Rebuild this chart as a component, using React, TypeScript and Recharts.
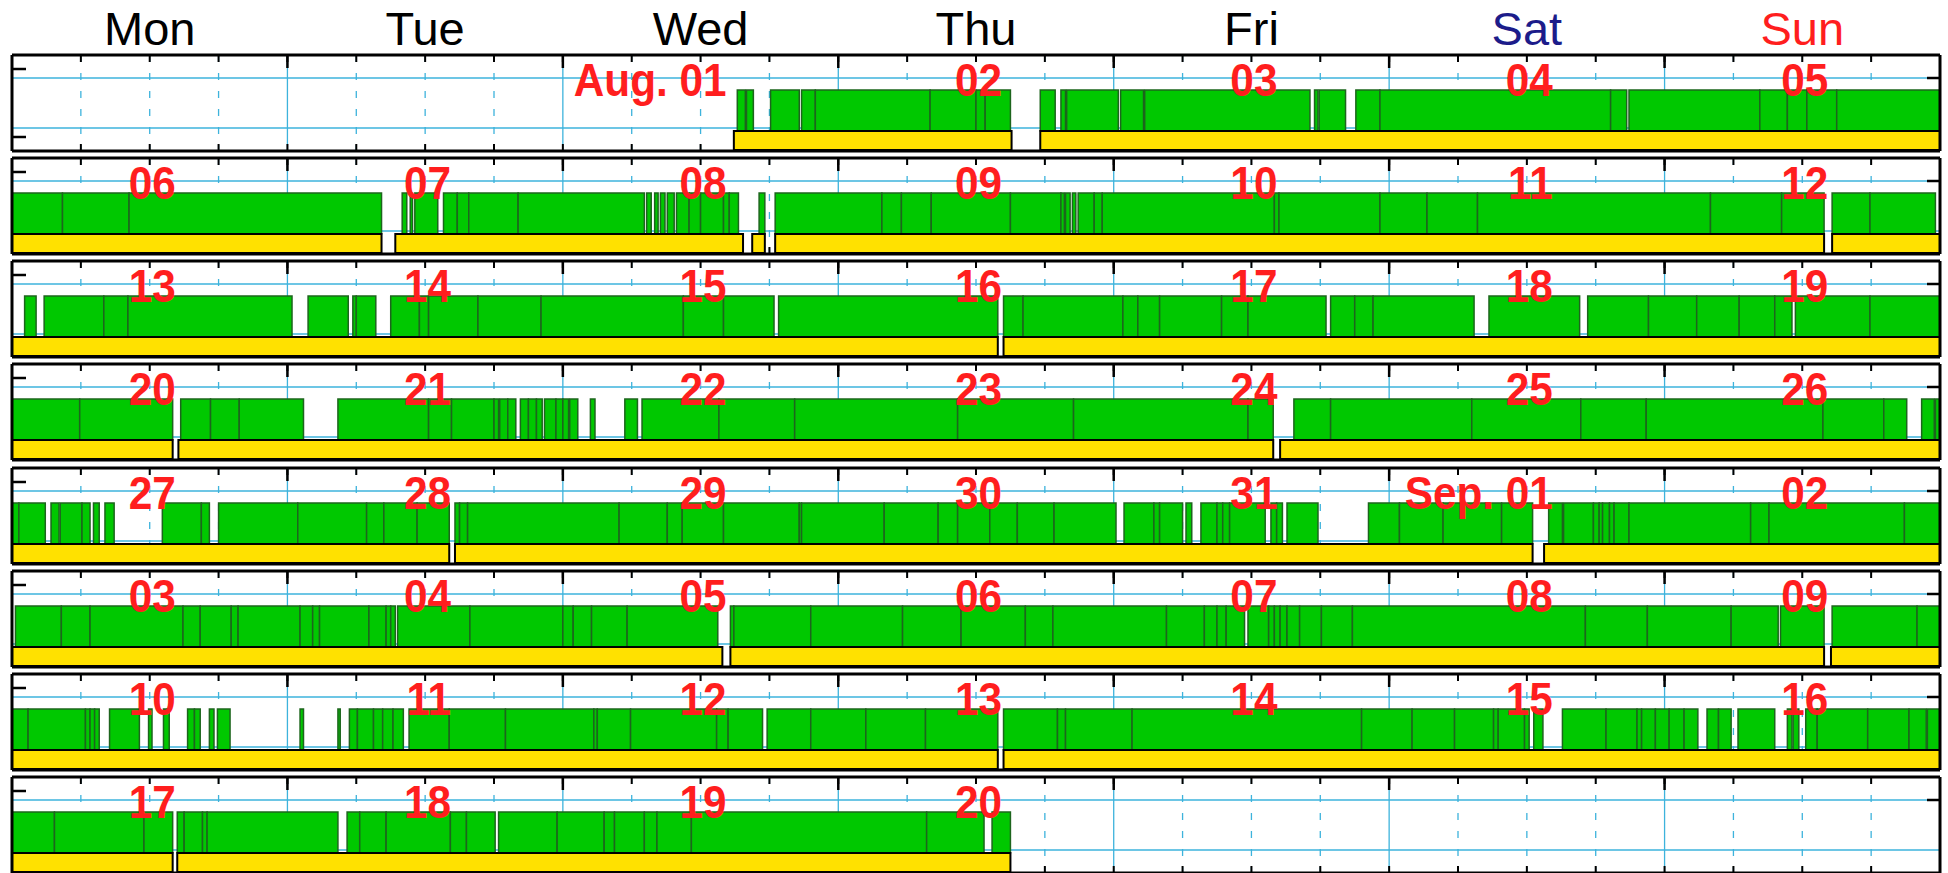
import React from "react";
import { ComposedChart, XAxis, YAxis, CartesianGrid, ReferenceArea } from "recharts";

const FONT = "'Liberation Sans', Arial, Helvetica, sans-serif";

const dayNames = ["Mon", "Tue", "Wed", "Thu", "Fri", "Sat", "Sun"];
const dayNameColors = ["#000", "#000", "#000", "#000", "#000", "#1c1c8a", "#ff1e1e"];

// date shown on each day of each week row
const datesWeek1 = ["", "", "Aug. 01", "02", "03", "04", "05"];
const datesWeek2 = ["06", "07", "08", "09", "10", "11", "12"];
const datesWeek3 = ["13", "14", "15", "16", "17", "18", "19"];
const datesWeek4 = ["20", "21", "22", "23", "24", "25", "26"];
const datesWeek5 = ["27", "28", "29", "30", "31", "Sep. 01", "02"];
const datesWeek6 = ["03", "04", "05", "06", "07", "08", "09"];
const datesWeek7 = ["10", "11", "12", "13", "14", "15", "16"];
const datesWeek8 = ["17", "18", "19", "20", "", "", ""];

// green activity blocks, hours from Monday 00:00; each block lists the boundaries
// of touching segments, so [a, b, c] means [a, b] and [b, c]
const greenWeek1 = [
  [63.2, 63.9], [64.0, 64.6], [66.1, 68.6], [68.8, 70.0, 80.0, 84.0, 84.8, 87.0],
  [89.6, 90.9], [91.4, 91.8], [91.9, 96.4], [96.6, 98.6], [98.7, 113.1],
  [113.5, 113.8], [113.9, 116.2], [117.1, 119.2, 139.3, 140.7],
  [140.9, 152.3, 154.7, 156.4, 159.0, 168],
];
const greenWeek2 = [
  [0, 4.4, 10.2, 32.2], [34.0, 34.4], [34.7, 34.9], [35.1, 37.1],
  [37.6, 38.8, 39.8, 44.1, 55.1], [55.3, 55.7], [56.0, 56.3], [56.5, 56.9], [57.1, 57.7],
  [57.9, 59.0, 60.0, 62.0, 62.5, 63.3], [65.1, 65.6],
  [66.5, 75.8, 77.5, 80.1, 87.0, 91.4, 91.7], [91.8, 92.2], [92.4, 92.7],
  [92.9, 94.3, 95.0, 110.0, 110.4, 119.2, 123.3, 127.7, 148.0, 154.2, 157.9],
  [158.6, 161.9, 167.6],
];
const greenWeek3 = [
  [1.1, 2.1], [2.8, 8.0, 10.1, 24.4], [25.8, 29.3], [29.7, 30.0, 31.7],
  [33.0, 35.5, 36.3, 40.6, 46.1, 58.5, 62.0, 66.4], [66.8, 85.9],
  [86.4, 88.1, 96.8, 98.1, 100.0, 105.4, 107.7, 114.5], [114.9, 117.0, 118.6, 127.4],
  [128.7, 136.6], [137.3, 142.6, 146.8, 150.5, 153.6, 155.1], [155.4, 161.9, 168],
];
const greenWeek4 = [
  [0, 5.9, 14.0], [14.7, 17.3, 19.8, 25.4], [28.4, 36.3, 38.3, 42.0, 42.4],
  [42.5, 43.2, 43.9], [44.3, 45.0, 45.7, 46.2], [46.4, 47.4, 48.0, 48.5], [48.6, 49.3],
  [50.4, 50.8], [53.4, 54.5], [54.9, 61.6, 68.2, 82.4, 92.5, 107.7, 109.9],
  [111.7, 114.9, 127.2, 136.7, 142.4, 157.8, 163.1, 165.1], [166.4, 167.5], [167.6, 168],
];
const greenWeek5 = [
  [0, 0.6, 2.9], [3.4, 4.1], [4.2, 6.1, 6.8], [7.1, 7.6], [8.1, 8.9], [13.1, 16.5, 17.2],
  [18.0, 24.9, 30.9, 32.4, 35.3, 38.1],
  [38.6, 39.0, 39.7, 52.9, 57.1, 58.4, 62.0, 68.6, 68.8, 76.0, 80.7, 82.4, 85.2, 87.6, 90.8, 96.2],
  [96.9, 99.5, 100.0, 102.0], [102.3, 102.8], [103.6, 105.0, 105.5, 106.1, 109.2],
  [109.7, 110.2, 110.7], [111.1, 113.8], [118.2, 120.9, 124.7, 129.8, 132.5], [133.9, 135.1],
  [135.2, 137.8, 138.3, 138.6, 139.2, 139.6, 140.9, 151.5, 153.1, 164.9, 168],
];
const greenWeek6 = [
  [0.3, 4.3, 6.8, 14.9, 16.4, 19.1, 19.7, 25.1, 26.2, 26.8, 31.1, 32.6, 33.0, 33.4],
  [33.6, 39.9, 48.0, 48.9, 50.5, 53.6, 61.5],
  [62.6, 62.9, 69.6, 77.6, 82.7, 88.3, 90.7, 100.6, 103.9, 105.0, 105.8, 107.4],
  [107.7, 109.5, 110.0, 110.5, 111.1, 112.2, 114.1, 116.8, 137.1, 142.5, 149.8, 153.9],
  [154.1, 157.9], [158.6, 166.0, 168],
];
const greenWeek7 = [
  [0, 1.4, 6.4, 6.8, 7.2, 7.6], [8.5, 11.1], [11.9, 12.2], [13.2, 13.7], [15.3, 15.9, 16.4],
  [17.2, 17.6], [17.9, 19.0], [25.1, 25.4], [28.4, 28.6], [29.4, 30.1, 31.5, 32.3, 33.2, 34.1],
  [34.6, 38.1, 43.0, 50.7, 51.0, 53.9, 61.4, 62.4, 65.4], [65.8, 69.6, 74.4, 79.6, 85.9],
  [86.4, 91.1, 91.8, 97.6, 117.6, 122.0, 125.7, 129.1, 129.5, 131.8, 132.2], [132.6, 133.4],
  [135.1, 138.9, 141.6, 142.0, 143.2, 144.4, 145.7, 146.9], [147.7, 148.7, 149.8],
  [150.4, 153.6], [154.7, 155.1], [155.2, 155.7], [156.3, 157.3, 161.7, 165.3, 166.8],
  [166.9, 168],
];
const greenWeek8 = [
  [0, 3.7, 11.5, 14.0], [14.4, 15.0, 16.6, 17.0, 28.4], [29.2, 30.3, 32.6, 38.2, 39.6, 42.1],
  [42.4, 47.5, 51.6, 52.5, 55.1, 56.2, 59.2, 79.7, 84.7], [85.4, 87.0],
];

// yellow spans, hours from Monday 00:00
const yellowWeek1 = [[62.9, 87.1], [89.6, 168]];
const yellowWeek2 = [[0, 32.2], [33.4, 63.7], [64.5, 65.6], [66.5, 157.9], [158.6, 168]];
const yellowWeek3 = [[0, 85.9], [86.4, 168]];
const yellowWeek4 = [[0, 14.0], [14.5, 109.9], [110.5, 168]];
const yellowWeek5 = [[0, 38.1], [38.6, 132.5], [133.5, 168]];
const yellowWeek6 = [[0, 61.9], [62.6, 157.9], [158.5, 168]];
const yellowWeek7 = [[0, 85.9], [86.4, 168]];
const yellowWeek8 = [[0, 14.0], [14.4, 87.0]];

const weeks = [
  { dates: datesWeek1, green: greenWeek1, yellow: yellowWeek1 },
  { dates: datesWeek2, green: greenWeek2, yellow: yellowWeek2 },
  { dates: datesWeek3, green: greenWeek3, yellow: yellowWeek3 },
  { dates: datesWeek4, green: greenWeek4, yellow: yellowWeek4 },
  { dates: datesWeek5, green: greenWeek5, yellow: yellowWeek5 },
  { dates: datesWeek6, green: greenWeek6, yellow: yellowWeek6 },
  { dates: datesWeek7, green: greenWeek7, yellow: yellowWeek7 },
  { dates: datesWeek8, green: greenWeek8, yellow: yellowWeek8 },
];

const dayCenters = [12, 36, 60, 84, 108, 132, 156];
const dayBounds = [24, 48, 72, 96, 120, 144];
const quarterTicks = Array.from({ length: 27 }, (_, i) => (i + 1) * 6);
const quarterOnly = quarterTicks.filter((t) => t % 24 !== 0);

const GRID = "#3db3dc";
const THIN = 0.01; // axes need a non-zero size to be drawn
const toSegments = (blocks: number[][]) =>
  blocks.flatMap((b) => b.slice(1).map((end, i) => [b[i], end]));

const noLabel = () => <g />;

function WeekRow({ week, index }: { week: (typeof weeks)[number]; index: number }) {
  const first = index === 0;
  const top = first ? 55 : 2;
  const covered = (t: number) => week.yellow.some(([a, b]) => t > a && t < b);
  const bottomTicks = quarterTicks.filter((t) => t < 168 && !covered(t));
  const leftTicks = covered(0.5) ? [82] : [14, 82];
  const greenSegs = toSegments(week.green);
  const rows = greenSegs.map(([start, end]) => ({ start, end }));

  // bold red date, slightly condensed like the original
  const dateTick = (props: any) => {
    const label = week.dates[Math.round((props.payload.value - 12) / 24)];
    if (!label) return <g />;
    return (
      <text transform={`translate(${props.x + 26},${props.y + 41}) scale(0.92,1)`} textAnchor="end"
        fill="#ff1e1e" fontSize={46} fontWeight="bold" fontFamily={FONT}>{label}</text>
    );
  };
  const dayTick = (props: any) => {
    const d = Math.round((props.payload.value - 12) / 24);
    return (
      <text x={props.x} y={props.y - 10} textAnchor="middle" fill={dayNameColors[d]}
        fontSize={47} fontFamily={FONT}>{dayNames[d]}</text>
    );
  };

  const xCommon = { dataKey: "start", type: "number" as const, domain: [0, 168], allowDataOverflow: true, height: THIN, interval: 0 as const };
  const rowTop = Math.round(55 + index * 103.15);
  return (
    <div style={{ position: "absolute", left: 10, top: first ? 0 : rowTop - 2 }}>
      <ComposedChart width={1932} height={96 + top + 2} data={rows} margin={{ top, right: 2, bottom: 2, left: 2 }}>
        <CartesianGrid stroke={GRID} strokeWidth={1.3} horizontalValues={[23, 73]} verticalValues={dayBounds} />
        <CartesianGrid stroke={GRID} strokeWidth={1.3} strokeDasharray="7 11" horizontal={false} verticalValues={quarterOnly} />

        {greenSegs.map(([a, b], i) => (
          <ReferenceArea key={"g" + i} x1={a} x2={b} y1={20} y2={61} fill="#00c800" fillOpacity={1}
            stroke="#1d651d" strokeWidth={1.5} ifOverflow="visible" />
        ))}
        {week.yellow.map(([a, b], i) => (
          <ReferenceArea key={"y" + i} x1={a} x2={b} y1={1} y2={20} fill="#ffe100" fillOpacity={1}
            stroke="#000" strokeWidth={2} ifOverflow="visible" />
        ))}

        <XAxis xAxisId={0} {...xCommon} orientation="top" mirror
          ticks={quarterTicks.filter((t) => t < 168)} tick={noLabel} tickSize={7}
          stroke="#000" axisLine={{ stroke: "#000", strokeWidth: 3 }} tickLine={{ stroke: "#000", strokeWidth: 2 }} />
        <XAxis xAxisId="major" {...xCommon} orientation="top" mirror
          ticks={dayBounds} tick={noLabel} tickSize={13} axisLine={false}
          stroke="#000" tickLine={{ stroke: "#000", strokeWidth: 2.5 }} />
        <XAxis xAxisId="bottom" {...xCommon} orientation="bottom" mirror
          ticks={bottomTicks.length ? bottomTicks : [0]} tick={noLabel} tickSize={bottomTicks.length ? 7 : 0}
          stroke="#000" axisLine={{ stroke: "#000", strokeWidth: 3 }} tickLine={{ stroke: "#000", strokeWidth: 2 }} />
        <YAxis yAxisId={0} type="number" domain={[0, 96]} allowDataOverflow width={THIN} mirror
          ticks={leftTicks} interval={0} tick={noLabel} tickSize={14}
          stroke="#000" axisLine={{ stroke: "#000", strokeWidth: 3 }} tickLine={{ stroke: "#000", strokeWidth: 2.5 }} />
        <YAxis yAxisId="right" orientation="right" type="number" domain={[0, 96]} allowDataOverflow width={THIN} mirror
          ticks={[73]} interval={0} tick={noLabel} tickSize={13}
          stroke="#000" axisLine={{ stroke: "#000", strokeWidth: 3 }} tickLine={{ stroke: "#000", strokeWidth: 2.5 }} />
        <XAxis xAxisId="dates" {...xCommon} orientation="top" mirror
          ticks={dayCenters} tick={dateTick} tickSize={0} tickMargin={0} axisLine={false} tickLine={false} />
        {first && (
          <XAxis xAxisId="days" {...xCommon} orientation="top"
            ticks={dayCenters} tick={dayTick} tickSize={0} tickMargin={0} axisLine={false} tickLine={false} />
        )}
      </ComposedChart>
    </div>
  );
}

export default function App() {
  return (
    <div style={{ position: "absolute", left: 0, top: 0, width: 1948, height: 873, background: "#fff", overflow: "hidden" }}>
      {weeks.map((w, i) => (
        <WeekRow key={i} week={w} index={i} />
      ))}
    </div>
  );
}
